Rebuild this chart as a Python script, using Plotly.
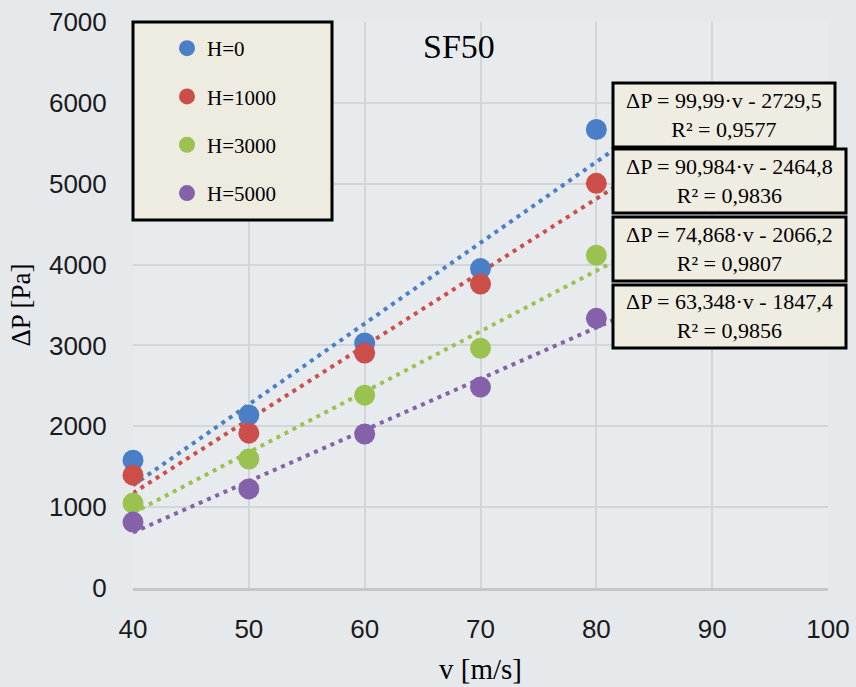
import plotly.graph_objects as go

# ---------------- data ----------------
velocity = [40, 50, 60, 70, 80]
series_names = ["H=0", "H=1000", "H=3000", "H=5000"]
dp_h0 = [1580, 2140, 3030, 3950, 5670]
dp_h1000 = [1395, 1915, 2905, 3760, 5005]
dp_h3000 = [1050, 1595, 2385, 2965, 4115]
dp_h5000 = [815, 1225, 1905, 2485, 3335]
slopes = [99.99, 90.984, 74.868, 63.348]
intercepts = [-2729.5, -2464.8, -2066.2, -1847.4]
r2_values = ["0,9577", "0,9836", "0,9807", "0,9856"]
slope_labels = ["99,99", "90,984", "74,868", "63,348"]
intercept_labels = ["2729,5", "2464,8", "2066,2", "1847,4"]
trend_x = [40, 82]
x_ticks = [40, 50, 60, 70, 80, 90, 100]
y_ticks = [0, 1000, 2000, 3000, 4000, 5000, 6000, 7000]

colors = ["#4a7ec6", "#cc4e4a", "#9bc250", "#8461a8"]
all_series = [dp_h0, dp_h1000, dp_h3000, dp_h5000]

# ---------------- layout geometry (pixels) ----------------
W, H = 856, 687
PL, PR, PT, PB = 133, 828, 22, 588


def px_x(p):
    return (p - PL) / (PR - PL)


def px_y(p):
    return (PB - p) / (PB - PT)


SERIF = "Liberation Serif"
SANS = "Liberation Sans"

fig = go.Figure()

# trend lines
for i in range(4):
    ty = [slopes[i] * x + intercepts[i] for x in trend_x]
    fig.add_trace(go.Scatter(
        x=trend_x, y=ty, mode="lines",
        line=dict(color=colors[i], width=4, dash="4px,5px"),
        showlegend=False, hoverinfo="skip", cliponaxis=False,
    ))

# data points
for i in range(4):
    fig.add_trace(go.Scatter(
        x=velocity, y=all_series[i], mode="markers", name=series_names[i],
        legendgroup=series_names[i],
        marker=dict(color=colors[i], size=21, line=dict(width=0)),
        cliponaxis=False,
    ))

shapes = []
annotations = []

# legend box
shapes.append(dict(type="rect", xref="paper", yref="paper",
                   x0=px_x(133), x1=px_x(332), y0=px_y(220), y1=px_y(22),
                   fillcolor="#eeebe1", line=dict(color="black", width=3),
                   layer="above"))

# equation boxes
boxes = [(613, 835, 83, 147), (613, 846, 149, 213), (613, 846, 217, 281), (613, 846, 285, 348)]
for i, (x0, x1, y0, y1) in enumerate(boxes):
    shapes.append(dict(type="rect", xref="paper", yref="paper",
                       x0=px_x(x0), x1=px_x(x1), y0=px_y(y1), y1=px_y(y0),
                       fillcolor="#efece2", line=dict(color="black", width=3),
                       layer="above"))
    txt = ("\u0394P = " + slope_labels[i] + "\u00b7v - " + intercept_labels[i]
           + "<br>R\u00b2 = " + r2_values[i])
    annotations.append(dict(
        xref="paper", yref="paper", x=px_x((x0 + x1) / 2), y=px_y((y0 + y1) / 2),
        text=txt, showarrow=False, xanchor="center", yanchor="middle",
        font=dict(family=SERIF, size=22, color="black"), align="center",
    ))

# title
annotations.append(dict(
    xref="paper", yref="paper", x=px_x(459), y=px_y(47), text="SF50",
    showarrow=False, xanchor="center", yanchor="middle",
    font=dict(family=SERIF, size=34, color="black"),
))

fig.update_layout(
    width=W, height=H,
    margin=dict(l=PL, r=W - PR, t=PT, b=H - PB, autoexpand=False),
    paper_bgcolor="#e5e9ec",
    plot_bgcolor="#e7ebee",
    shapes=shapes,
    annotations=annotations,
    showlegend=True,
    legend=dict(
        x=px_x(167), y=px_y(28), xanchor="left", yanchor="top",
        bgcolor="rgba(0,0,0,0)", borderwidth=0,
        font=dict(family=SERIF, size=21, color="black"),
        itemsizing="trace", tracegroupgap=18,
    ),
    xaxis=dict(
        range=[40, 100], tickvals=x_ticks, showgrid=True, automargin=False,
        gridcolor="#d3d6d8", gridwidth=2, zeroline=False,
        showline=True, linecolor="#c4c6c8", linewidth=3,
        ticks="outside", ticklen=16, tickcolor="rgba(0,0,0,0)",
        tickfont=dict(family=SANS, size=26, color="#1a1a1a"),
        title=dict(text="v [m/s]", font=dict(family=SERIF, size=29, color="black"), standoff=16),
    ),
    yaxis=dict(
        range=[0, 7000], tickvals=y_ticks, showgrid=True, automargin=False,
        gridcolor="#d3d6d8", gridwidth=2, zeroline=False, showline=False,
        ticks="outside", ticklen=20, tickcolor="rgba(0,0,0,0)",
        tickfont=dict(family=SANS, size=26, color="#1a1a1a"),
        title=dict(text="\u0394P [Pa]", font=dict(family=SERIF, size=27, color="black"), standoff=10),
    ),
)

fig.write_html(
    "out.html",
    config={"displayModeBar": False},
    post_script="document.body.style.margin='0';document.body.style.background='#e5e9ec';"
)
